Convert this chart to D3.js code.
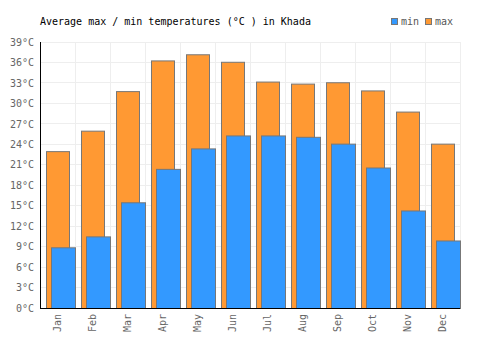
<!DOCTYPE html>
<html>
<head>
<meta charset="utf-8">
<script src="https://cdn.jsdelivr.net/npm/d3@7"></script>
<style>
  body { margin: 0; background: #fff; }
  svg { display: block; font-family: "DejaVu Sans Mono", monospace; }
</style>
</head>
<body>
<div id="chart"></div>
<script>
// Average temperatures in Khada, per month
const months = ["Jan", "Feb", "Mar", "Apr", "May", "Jun", "Jul", "Aug", "Sep", "Oct", "Nov", "Dec"];
const maxTemps = [23, 26, 31.8, 36.3, 37.2, 36.1, 33.2, 32.9, 33.1, 31.9, 28.8, 24.1];
const minTemps = [8.9, 10.5, 15.5, 20.4, 23.4, 25.3, 25.3, 25.1, 24.1, 20.6, 14.3, 9.9];
const yTicks = [0, 3, 6, 9, 12, 15, 18, 21, 24, 27, 30, 33, 36, 39];

const width = 500, height = 350;
const margin = {top: 42, right: 40, bottom: 42, left: 40};
const innerW = width - margin.left - margin.right;
const innerH = height - margin.top - margin.bottom;

const ORANGE = "#ff9933";
const BLUE = "#3399ff";
const STROKE = "#777";

const svg = d3.select("#chart").append("svg")
  .attr("width", width)
  .attr("height", height)
  .style("font-size", "10px");

const g = svg.append("g")
  .attr("transform", `translate(${margin.left},${margin.top})`);

const x = d3.scaleBand().domain(months).range([0, innerW]).padding(0);
const y = d3.scaleLinear().domain([0, 39]).range([innerH, 0]);
const bw = x.bandwidth();

// grid
const grid = g.append("g").attr("shape-rendering", "crispEdges");
grid.selectAll("line.h")
  .data(yTicks)
  .join("line")
  .attr("x1", 0).attr("x2", innerW)
  .attr("y1", d => y(d)).attr("y2", d => y(d))
  .attr("stroke", "#eee");
grid.selectAll("line.v")
  .data(months.map(m => x(m)).concat([innerW]))
  .join("line")
  .attr("x1", d => d).attr("x2", d => d)
  .attr("y1", 0).attr("y2", innerH)
  .attr("stroke", "#eee");

// max bars (behind)
g.selectAll("rect.max")
  .data(months)
  .join("rect")
  .attr("class", "max")
  .attr("x", m => x(m) + 6.5)
  .attr("width", bw - 12)
  .attr("y", (m, i) => y(maxTemps[i]) + 0.5)
  .attr("height", (m, i) => innerH - y(maxTemps[i]))
  .attr("fill", ORANGE)
  .attr("stroke", STROKE);

// min bars (front)
g.selectAll("rect.min")
  .data(months)
  .join("rect")
  .attr("class", "min")
  .attr("x", m => x(m) + 11.5)
  .attr("width", bw - 11)
  .attr("y", (m, i) => y(minTemps[i]) + 0.5)
  .attr("height", (m, i) => innerH - y(minTemps[i]))
  .attr("fill", BLUE)
  .attr("stroke", STROKE);

// axes
const yAxis = g.append("g")
  .call(d3.axisLeft(y).tickValues(yTicks).tickSize(0).tickPadding(6).tickFormat(d => d + "°C"));
yAxis.select(".domain").remove();
yAxis.selectAll("text").attr("fill", "#666").style("font-size", "10px").style("font-family", "DejaVu Sans Mono, monospace");

const xAxis = g.append("g")
  .attr("transform", `translate(0,${innerH})`)
  .call(d3.axisBottom(x).tickSize(0).tickPadding(0));
xAxis.select(".domain").remove();
xAxis.selectAll("text")
  .attr("fill", "#666")
  .style("font-size", "10px")
  .style("font-family", "DejaVu Sans Mono, monospace")
  .attr("text-anchor", "end")
  .attr("transform", "rotate(-90)")
  .attr("x", -6)
  .attr("y", 0)
  .attr("dy", "0.35em");

g.append("line")
  .attr("x1", 0.5).attr("x2", 0.5).attr("y1", 0).attr("y2", innerH + 0.5)
  .attr("stroke", "#000");
g.append("line")
  .attr("x1", 0).attr("x2", innerW).attr("y1", innerH + 0.5).attr("y2", innerH + 0.5)
  .attr("stroke", "#000");

// title
svg.append("text")
  .attr("x", 40).attr("y", 25)
  .attr("fill", "#000")
  .text("Average max / min temperatures (°C ) in Khada");

// legend
const legend = svg.append("g").attr("transform", "translate(391,18)");
const items = [{label: "min", color: BLUE, dx: 0}, {label: "max", color: ORANGE, dx: 34}];
items.forEach(it => {
  legend.append("rect")
    .attr("x", it.dx + 0.5).attr("y", 0.5)
    .attr("width", 6).attr("height", 6)
    .attr("fill", it.color).attr("stroke", STROKE);
  legend.append("text")
    .attr("x", it.dx + 10).attr("y", 7)
    .attr("fill", "#555")
    .text(it.label);
});
</script>
</body>
</html>
